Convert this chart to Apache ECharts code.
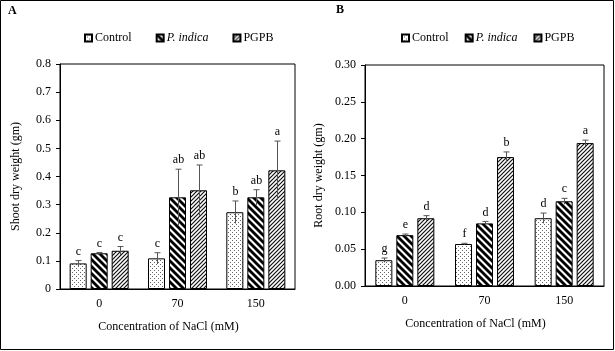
<!DOCTYPE html>
<html>
<head>
<meta charset="utf-8">
<script src="https://cdn.jsdelivr.net/npm/echarts@6/dist/echarts.min.js"></script>
<style>
  html, body { margin: 0; padding: 0; background: #fff; }
  #main { width: 615px; height: 351px; }
</style>
</head>
<body>
<div id="main"></div>
<script>
// 数据
var categories = ['0', '70', '150'];
var seriesNames = ['Control', 'P. indica', 'PGPB'];

// A: 地上部干重
var shootControl = [0.091, 0.109, 0.273];
var shootIndica = [0.127, 0.326, 0.326];
var shootPGPB = [0.136, 0.351, 0.422];
var shootControlErr = [0.010, 0.020, 0.040];
var shootIndicaErr = [0.003, 0.100, 0.027];
var shootPGPBErr = [0.015, 0.090, 0.104];
var shootControlLetters = ['c', 'c', 'b'];
var shootIndicaLetters = ['c', 'ab', 'ab'];
var shootPGPBLetters = ['c', 'ab', 'a'];

// B: 根干重
var rootControl = [0.035, 0.057, 0.092];
var rootIndica = [0.069, 0.085, 0.115];
var rootPGPB = [0.092, 0.175, 0.194];
var rootControlErr = [0.003, 0.001, 0.007];
var rootIndicaErr = [0.0015, 0.0027, 0.004];
var rootPGPBErr = [0.0035, 0.007, 0.004];
var rootControlLetters = ['g', 'f', 'd'];
var rootIndicaLetters = ['e', 'd', 'c'];
var rootPGPBLetters = ['d', 'b', 'a'];

var FONT = '"Liberation Serif", "DejaVu Serif", serif';
var BAR_W = 17;
var BAR_STEP = 21;

/*********************** 填充图案 ***********************/
function makeTile(size, draw) {
    var c = document.createElement('canvas');
    c.width = size;
    c.height = size;
    var ctx = c.getContext('2d');
    ctx.fillStyle = '#fff';
    ctx.fillRect(0, 0, size, size);
    draw(ctx, size);
    return { image: c, repeat: 'repeat' };
}

var dotPattern = makeTile(4, function (ctx) {
    ctx.fillStyle = '#666';
    ctx.fillRect(0, 0, 1, 1);
    ctx.fillRect(2, 2, 1, 1);
});

var wideStripe = makeTile(7, function (ctx, s) {
    ctx.strokeStyle = '#000';
    ctx.lineWidth = 2.8;
    for (var c = -s; c <= s; c += s) {
        ctx.beginPath();
        ctx.moveTo(-1, c - 1);
        ctx.lineTo(s + 1, s + c + 1);
        ctx.stroke();
    }
});

var narrowStripe = makeTile(4, function (ctx, s) {
    ctx.strokeStyle = '#111';
    ctx.lineWidth = 1.2;
    for (var c = 0; c <= 2 * s; c += s) {
        ctx.beginPath();
        ctx.moveTo(-1, c + 1);
        ctx.lineTo(s + 1, c - s - 1);
        ctx.stroke();
    }
});

var patterns = [dotPattern, wideStripe, narrowStripe];

/*********************** 系列构造 ***********************/
function barSeries(idx, name, values) {
    return {
        type: 'bar',
        name: name,
        xAxisIndex: idx,
        yAxisIndex: idx,
        data: values,
        barWidth: BAR_W,
        barGap: ((BAR_STEP - BAR_W) / BAR_W * 100) + '%',
        itemStyle: { color: patterns[seriesNames.indexOf(name)], borderColor: '#000', borderWidth: 1 },
        emphasis: { disabled: true }
    };
}

function errSeries(idx, pos, values, errs, letters) {
    var data = [];
    for (var i = 0; i < values.length; i++) {
        data.push([i, values[i], errs[i], letters[i]]);
    }
    var offset = (pos - 1) * BAR_STEP;
    return {
        type: 'custom',
        xAxisIndex: idx,
        yAxisIndex: idx,
        z: 5,
        silent: true,
        data: data,
        renderItem: function (params, api) {
            var v = api.value(1), e = api.value(2);
            var mid = api.coord([api.value(0), v]);
            var x = Math.round(mid[0] + offset) + 0.5;
            var top = api.coord([api.value(0), v + e])[1];
            var bot = api.coord([api.value(0), v - e])[1];
            var lineStyle = { stroke: '#555', lineWidth: 1 };
            return {
                type: 'group',
                children: [
                    { type: 'line', shape: { x1: x, y1: bot, x2: x, y2: top }, style: lineStyle },
                    { type: 'line', shape: { x1: x - 3, y1: top, x2: x + 3, y2: top }, style: lineStyle },
                    {
                        type: 'text',
                        style: {
                            text: data[params.dataIndex][3],
                            x: x, y: top - 3,
                            align: 'center', verticalAlign: 'bottom',
                            font: '12px ' + FONT, fill: '#000'
                        }
                    }
                ]
            };
        }
    };
}

function legendItem(left, top, gap) {
    return {
        left: left,
        top: top,
        icon: 'rect',
        itemWidth: 7,
        itemHeight: 7,
        itemGap: gap,
        selectedMode: false,
        data: seriesNames,
        formatter: function (name) {
            return name === 'P. indica' ? '{i|P. indica}' : name;
        },
        textStyle: {
            fontFamily: FONT, fontSize: 12, color: '#000', padding: [0, 0, 0, -2],
            rich: { i: { fontFamily: FONT, fontSize: 12, fontStyle: 'italic', color: '#000' } }
        }
    };
}

function xAxisItem(idx) {
    return {
        type: 'category',
        gridIndex: idx,
        data: categories,
        name: 'Concentration of NaCl (mM)',
        nameLocation: 'middle',
        nameGap: 32,
        nameTextStyle: { fontFamily: FONT, fontSize: 12, color: '#000', padding: [0, 18, 0, 0] },
        axisLine: { lineStyle: { color: '#000', width: 1 } },
        axisTick: { show: false },
        axisLabel: { fontFamily: FONT, fontSize: 12, color: '#000', margin: 9 }
    };
}

function yAxisItem(idx, name, max, interval, gap, fmt) {
    return {
        type: 'value',
        gridIndex: idx,
        min: 0,
        max: max,
        interval: interval,
        name: name,
        nameLocation: 'middle',
        nameGap: gap,
        nameTextStyle: { fontFamily: FONT, fontSize: 12, color: '#000' },
        axisLine: { show: true, lineStyle: { color: '#000', width: 1 } },
        axisTick: { show: true, length: 4, lineStyle: { color: '#000' } },
        axisLabel: { fontFamily: FONT, fontSize: 12, color: '#000', margin: 9, formatter: fmt },
        splitLine: { show: false }
    };
}

var chart = echarts.init(document.getElementById('main'), null, { renderer: 'canvas' });

var option = {
    animation: false,
    backgroundColor: '#fff',
    grid: [
        { left: 60, top: 64, right: 320, bottom: 62, show: true, borderColor: '#000', borderWidth: 1 },
        { left: 365, top: 65, right: 11, bottom: 65, show: true, borderColor: '#000', borderWidth: 1 }
    ],
    legend: [
        legendItem(79, 27, 24),
        legendItem(396, 27, 16)
    ],
    xAxis: [xAxisItem(0), xAxisItem(1)],
    yAxis: [
        yAxisItem(0, 'Shoot dry weight (gm)', 0.8, 0.1, 38, function (v) { return v === 0 ? '0' : v.toFixed(1); }),
        yAxisItem(1, 'Root dry weight (gm)', 0.3, 0.05, 40, function (v) { return v.toFixed(2); })
    ],
    series: [
        barSeries(0, 'Control', shootControl),
        barSeries(0, 'P. indica', shootIndica),
        barSeries(0, 'PGPB', shootPGPB),
        errSeries(0, 0, shootControl, shootControlErr, shootControlLetters),
        errSeries(0, 1, shootIndica, shootIndicaErr, shootIndicaLetters),
        errSeries(0, 2, shootPGPB, shootPGPBErr, shootPGPBLetters),
        barSeries(1, 'Control', rootControl),
        barSeries(1, 'P. indica', rootIndica),
        barSeries(1, 'PGPB', rootPGPB),
        errSeries(1, 0, rootControl, rootControlErr, rootControlLetters),
        errSeries(1, 1, rootIndica, rootIndicaErr, rootIndicaLetters),
        errSeries(1, 2, rootPGPB, rootPGPBErr, rootPGPBLetters)
    ],
    graphic: [
        { type: 'rect', shape: { x: 0.5, y: 0.5, width: 613, height: 349 }, style: { fill: 'none', stroke: '#000', lineWidth: 1 } },
        { type: 'text', left: 8, top: 5, style: { text: 'A', font: 'bold 12px ' + FONT, fill: '#000' } },
        { type: 'text', left: 336, top: 4, style: { text: 'B', font: 'bold 12px ' + FONT, fill: '#000' } }
    ]
};

chart.setOption(option);
</script>
</body>
</html>
